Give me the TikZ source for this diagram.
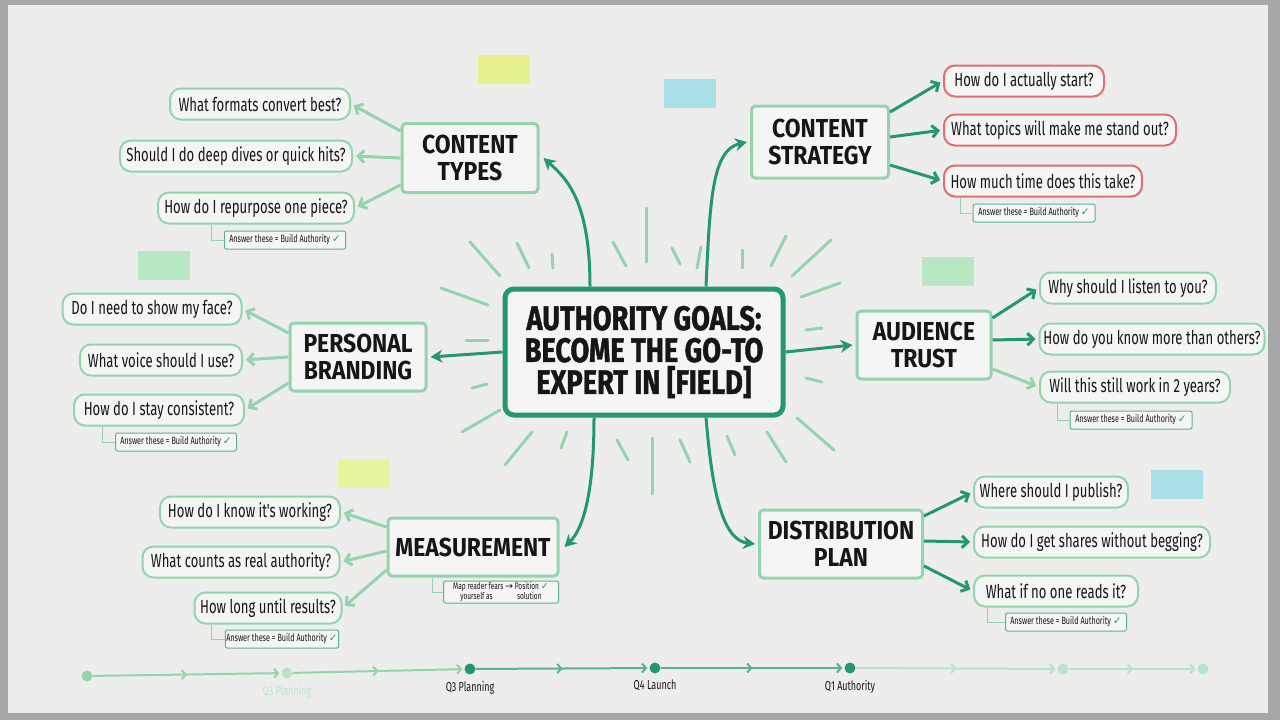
\documentclass[tikz,border=0pt]{standalone}
\usepackage{fontspec}
\setmainfont{Fira Sans}
\newfontfamily\titlefont{Fira Sans}[FakeStretch=0.8, FakeBold=1.2]
\newfontfamily\catfont{Fira Sans}[FakeStretch=0.88]
\newfontfamily\handfont{Fira Sans}[FakeStretch=0.69]
\newfontfamily\symfont{DejaVu Sans}
\usetikzlibrary{arrows.meta, positioning, calc, decorations.markings}

\definecolor{frame}{HTML}{A6A8A7}
\definecolor{board}{HTML}{EDEEEB}
\definecolor{boxfill}{HTML}{F5F6F3}
\definecolor{ink}{HTML}{161616}
\definecolor{mkdark}{HTML}{23976F}
\definecolor{mklight}{HTML}{94D3AD}
\definecolor{mkfaint}{HTML}{B9E2CB}
\definecolor{mkred}{HTML}{DD6E72}
\definecolor{noteyellow}{HTML}{E6F08C}
\definecolor{notelime}{HTML}{E9F59E}
\definecolor{noteblue}{HTML}{A9DFE6}
\definecolor{notegreen}{HTML}{B7E7C3}

\newcommand{\okmark}{{\symfont\color{mkdark}✓}}

\begin{document}
\begin{tikzpicture}[
  x=1pt, y=-1pt,
  hub/.style={draw=mkdark, line width=5pt, rounded corners=9pt, fill=boxfill, minimum width=278pt, minimum height=126pt, align=center, text=ink, font=\titlefont\bfseries\fontsize{34}{32}\selectfont},
  cat/.style={draw=mklight, line width=3pt, rounded corners=4pt, fill=boxfill, align=center, text=ink, inner sep=2pt, font=\catfont\bfseries\fontsize{26}{27}\selectfont},
  leaf/.style={draw=mklight, line width=2pt, rounded corners=11pt, fill=boxfill, minimum height=31pt, inner sep=2pt, text=ink, font=\handfont\fontsize{19}{20}\selectfont},
  redleaf/.style={leaf, draw=mkred},
  ans/.style={draw=mkdark!75, line width=1pt, rounded corners=2pt, fill=boxfill, minimum height=18pt, inner sep=1pt, text=ink, font=\handfont\fontsize{10.5}{11}\selectfont},
  arr/.style={-{Stealth[length=12pt,width=13pt]}, line width=3pt, draw=mkdark},
  darr/.style={-{Straight Barb[length=6pt,width=12pt]}, line width=3pt, draw=mkdark, shorten >=3pt},
  larr/.style={darr, draw=mklight},
  brk/.style={draw=mklight, line width=1pt},
  ray/.style={draw=mklight, line width=3pt, line cap=round},
  sticky/.style={minimum width=52pt, minimum height=29pt, inner sep=0pt},
  tdot/.style={circle, minimum size=11pt, inner sep=0pt},
  tline/.style={line width=2pt, -{Straight Barb[length=4pt,width=9pt]}, shorten >=2pt,
    postaction={decorate, decoration={markings, mark=at position 0.5 with {\arrow{Straight Barb[length=4pt,width=9pt]}}}}},
  tlab/.style={text=ink, font=\handfont\fontsize{13}{14}\selectfont},
]
\useasboundingbox (0,0) rectangle (1280,720);
% whiteboard
\fill[frame] (0,0) rectangle (1280,720);
\fill[board] (8,5) rectangle (1268,713);

% rays round the goal
\foreach \xa/\ya/\xb/\yb in {470/242/500/276, 517/243/529/268, 552/254/553/268, 613/242/626/266,
  646/208/646/262, 672/248/680/264, 701/247/697/268, 742/250/742/268, 786/236/771/266, 831/240/792/276,
  441/288/488/305, 466/340/488/340, 472/388/487/384, 462/432/500/410,
  801/297/840/283, 806/330/822/328, 806/378/822/382, 797/418/834/450,
  505/465/532/432, 567/432/561/448, 617/440/628/460, 652/438/652/494, 680/440/690/462, 727/436/735/455, 767/432/786/462}
  \draw[ray] (\xa,\ya) -- (\xb,\yb);

% sticky notes
\node[sticky, fill=noteyellow] (s1) at (504,69) {};
\node[sticky, fill=noteblue]   (s2) at (690,93) {};
\node[sticky, fill=notegreen]  (s3) at (164,265) {};
\node[sticky, fill=notelime]   (s4) at (364,473) {};
\node[sticky, fill=notegreen]  (s5) at (948,271) {};
\node[sticky, fill=noteblue]   (s6) at (1177,484) {};

% goal
\node[hub] (hub) at (644,352) {AUTHORITY GOALS:\\BECOME THE GO-TO\\EXPERT IN [FIELD]};

% topics
\node[cat, minimum width=136pt, minimum height=69pt] (ctypes) at (470,158) {CONTENT\\TYPES};
\node[cat, minimum width=137pt, minimum height=72pt] (cstrat) at (820,142) {CONTENT\\STRATEGY};
\node[cat, minimum width=136pt, minimum height=68pt] (pbrand) at (358,357) {PERSONAL\\BRANDING};
\node[cat, minimum width=134pt, minimum height=68pt] (atrust) at (924,345) {AUDIENCE\\TRUST};
\node[cat, minimum width=170pt, minimum height=58pt] (meas)   at (473,547) {MEASUREMENT};
\node[cat, minimum width=163pt, minimum height=68pt] (dist)   at (841,544) {DISTRIBUTION\\PLAN};

\draw[arr] ([xshift=-54pt]hub.north) .. controls (590,200) and (566,178) .. ([xshift=4pt]ctypes.east);
\draw[arr] ([xshift=62pt]hub.north) .. controls (710,200) and (712,150) .. ([xshift=-3pt]cstrat.west);
\draw[arr] (hub.west) -- ([xshift=3pt]pbrand.east);
\draw[arr] (hub.east) -- ([xshift=-3pt]atrust.west);
\draw[arr] ([xshift=-50pt]hub.south) .. controls (594,490) and (584,528) .. ([xshift=5pt]meas.east);
\draw[arr] ([xshift=62pt]hub.south) .. controls (712,490) and (722,540) .. ([xshift=-3pt]dist.west);

% content types
\node[leaf, minimum width=180pt] (ct1) at (260,104) {What formats convert best?};
\node[leaf, minimum width=232pt] (ct2) at (236,156) {Should I do deep dives or quick hits?};
\node[leaf, minimum width=196pt] (ct3) at (256,208) {How do I repurpose one piece?};
\node[ans, minimum width=121pt] (ctans) at (285,240) {Answer these = Build Authority \okmark};
\draw[larr] ([yshift=27pt]ctypes.west) -- (ct1.east);
\draw[larr] (ctypes.west) -- (ct2.east);
\draw[larr] ([yshift=-27pt]ctypes.west) -- (ct3.east);
\draw[brk] (ctans.west) -| ([xshift=-13pt]ctans.west |- ct3.south);

% content strategy
\node[redleaf, minimum width=160pt] (cs1) at (1024,81) {How do I actually start?};
\node[redleaf, minimum width=232pt] (cs2) at (1060,130) {What topics will make me stand out?};
\node[redleaf, minimum width=198pt] (cs3) at (1043,181) {How much time does this take?};
\node[ans, minimum width=122pt] (csans) at (1034,213) {Answer these = Build Authority \okmark};
\draw[darr] ([yshift=30pt]cstrat.east) -- (cs1.west);
\draw[darr] ([yshift=5pt]cstrat.east) -- (cs2.west);
\draw[darr] ([yshift=-23pt]cstrat.east) -- (cs3.west);
\draw[brk] (csans.west) -| ([xshift=-12pt]csans.west |- cs3.south);

% personal branding
\node[leaf, minimum width=179pt] (pb1) at (152,309) {Do I need to show my face?};
\node[leaf, minimum width=162pt] (pb2) at (161,360) {What voice should I use?};
\node[leaf, minimum width=170pt] (pb3) at (159,410) {How do I stay consistent?};
\node[ans, minimum width=121pt] (pbans) at (176,442) {Answer these = Build Authority \okmark};
\draw[larr] ([yshift=24pt]pbrand.west) -- (pb1.east);
\draw[larr] (pbrand.west) -- (pb2.east);
\draw[larr] ([yshift=-26pt]pbrand.west) -- (pb3.east);
\draw[brk] (pbans.west) -| ([xshift=-13pt]pbans.west |- pb3.south);

% audience trust
\node[leaf, minimum width=176pt] (at1) at (1128,288) {Why should I listen to you?};
\node[leaf, minimum width=225pt] (at2) at (1152,339) {How do you know more than others?};
\node[leaf, minimum width=190pt] (at3) at (1135,387) {Will this still work in 2 years?};
\node[ans, minimum width=122pt] (atans) at (1131,420) {Answer these = Build Authority \okmark};
\draw[darr] ([yshift=27pt]atrust.east) -- (at1.west);
\draw[darr] ([yshift=5pt]atrust.east) -- (at2.west);
\draw[larr] ([yshift=-24pt]atrust.east) -- (at3.west);
\draw[brk] (atans.west) -| ([xshift=-12pt]atans.west |- at3.south);

% measurement
\node[leaf, minimum width=180pt] (ms1) at (250,512) {How do I know it's working?};
\node[leaf, minimum width=197pt] (ms2) at (241,562) {What counts as real authority?};
\node[leaf, minimum width=147pt] (ms3) at (268,608) {How long until results?};
\node[ans, minimum width=112pt] (msans) at (282,639) {Answer these = Build Authority \okmark};
\node[ans, minimum width=115pt, minimum height=22pt, align=center, font=\handfont\fontsize{9.5}{9.5}\selectfont] (mnote) at (501,592) {Map reader fears {\symfont→} Position \okmark\\yourself as \hspace{2.2em} solution};
\draw[larr] ([yshift=20pt]meas.west) -- (ms1.east);
\draw[larr] ([yshift=-4pt]meas.west) -- (ms2.east);
\draw[larr] ([yshift=-23pt]meas.west) -- (ms3.east);
\draw[brk] (msans.west) -| ([xshift=-13pt]msans.west |- ms3.south);
\draw[brk] (mnote.west) -| ([xshift=-11pt]mnote.west |- meas.south);

% distribution plan
\node[leaf, minimum width=154pt] (dp1) at (1051,492) {Where should I publish?};
\node[leaf, minimum width=236pt] (dp2) at (1092,542) {How do I get shares without begging?};
\node[leaf, minimum width=164pt] (dp3) at (1056,591) {What if no one reads it?};
\node[ans, minimum width=121pt] (dpans) at (1066,622) {Answer these = Build Authority \okmark};
\draw[darr] ([yshift=28pt]dist.east) -- (dp1.west);
\draw[darr] ([yshift=3pt]dist.east) -- (dp2.west);
\draw[darr] ([yshift=-22pt]dist.east) -- (dp3.west);
\draw[brk] (dpans.west) -| ([xshift=-18pt]dpans.west |- dp3.south);

% timeline
\node[tdot, fill=mklight] (t1) at (87,676) {};
\node[tdot, fill=mkfaint] (t2) at (287,673) {};
\node[tdot, fill=mkdark]  (t3) at (470,669) {};
\node[tdot, fill=mkdark]  (t4) at (655,668) {};
\node[tdot, fill=mkdark]  (t5) at (850,668) {};
\node[tdot, fill=mkfaint] (t6) at (1063,669) {};
\node[tdot, fill=mkfaint] (t7) at (1203,669) {};
\draw[tline, mklight] (t1) -- (t2);
\draw[tline, mklight] (t2) -- (t3);
\draw[tline, mkdark!75] (t3) -- (t4);
\draw[tline, mkdark!75] (t4) -- (t5);
\draw[tline, mkfaint] (t5) -- (t6);
\draw[tline, mkfaint] (t6) -- (t7);
\node[tlab, text=mkfaint, below=3pt of t2] (l2) {Q3 Planning};
\node[tlab, below=3pt of t3] (l3) {Q3 Planning};
\node[tlab, below=3pt of t4] (l4) {Q4 Launch};
\node[tlab, below=3pt of t5] (l5) {Q1 Authority};
\end{tikzpicture}
\end{document}
